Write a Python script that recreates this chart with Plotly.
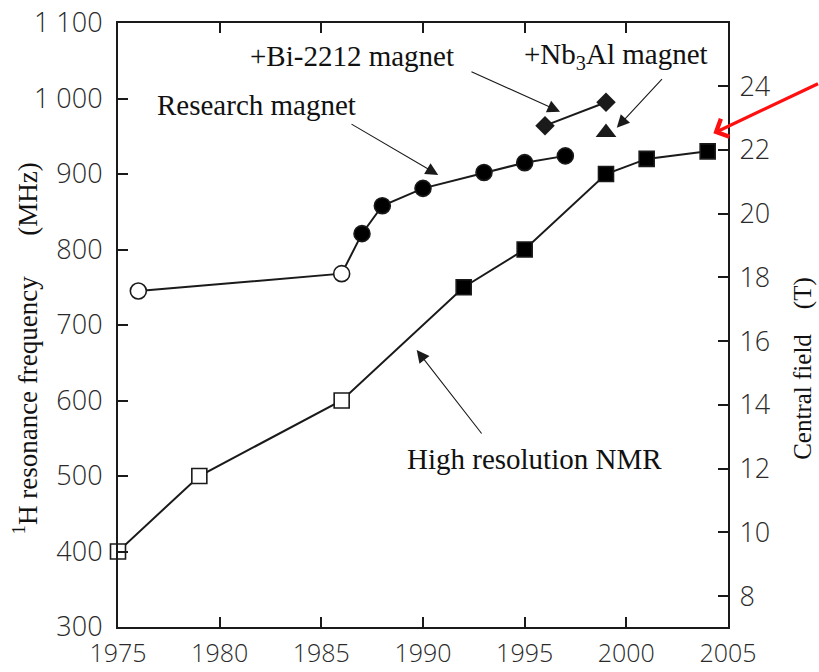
import plotly.graph_objects as go

# High resolution NMR magnets (open = early, filled = later generations)
nmr_years = [1975, 1979, 1986, 1992, 1995, 1999, 2001, 2004]
nmr_mhz = [400, 500, 600, 750, 800, 900, 920, 930]
nmr_fill = ["white", "white", "white", "black", "black", "black", "black", "black"]

# Research magnets
res_years = [1976, 1986, 1987, 1988, 1990, 1993, 1995, 1997]
res_mhz = [745, 768, 821, 858, 881, 902, 915, 924]
res_fill = ["white", "white", "black", "black", "black", "black", "black", "black"]

# Bi-2212 insert magnets and the Nb3Al magnet
bi_years = [1996, 1999]
bi_mhz = [964, 995]
nb_years = [1999]
nb_mhz = [955]

# Axis ticks
x_ticks = [1975, 1980, 1985, 1990, 1995, 2000, 2005]
y_ticks = [300, 400, 500, 600, 700, 800, 900, 1000, 1100]
y_ticktext = ["300", "400", "500", "600", "700", "800", "900", "1 000", "1 100"]
t_ticks = [8, 10, 12, 14, 16, 18, 20, 22, 24]

SERIF = "Liberation Serif, Times New Roman, serif"
SANS = "Open Sans, DejaVu Sans, sans-serif"
TICK_COLOR = "#2a2a2a"
LINE = "#1a1a1a"

fig = go.Figure()

fig.add_trace(go.Scatter(
    x=nmr_years, y=nmr_mhz, mode="lines+markers", cliponaxis=False,
    line=dict(color=LINE, width=2),
    marker=dict(symbol="square", size=15, color=nmr_fill,
                line=dict(color=LINE, width=1.6)),
    showlegend=False, hoverinfo="skip"))

fig.add_trace(go.Scatter(
    x=res_years, y=res_mhz, mode="lines+markers", cliponaxis=False,
    line=dict(color=LINE, width=2),
    marker=dict(symbol="circle", size=16, color=res_fill,
                line=dict(color=LINE, width=1.6)),
    showlegend=False, hoverinfo="skip"))

fig.add_trace(go.Scatter(
    x=bi_years, y=bi_mhz, mode="lines+markers", cliponaxis=False,
    line=dict(color=LINE, width=2),
    marker=dict(symbol="diamond", size=15, color=LINE),
    showlegend=False, hoverinfo="skip"))

fig.add_trace(go.Scatter(
    x=nb_years, y=nb_mhz, mode="markers", cliponaxis=False,
    marker=dict(symbol="triangle-up", size=18, color=LINE),
    showlegend=False, hoverinfo="skip"))

# empty trace so the tesla axis on the right is drawn
fig.add_trace(go.Scatter(x=[None], y=[None], yaxis="y2",
                         showlegend=False, hoverinfo="skip"))

text_font = dict(family=SERIF, size=29, color="#111111")
annotations = [
    dict(x=1986.5, y=1056, text="+Bi-2212 magnet"),
    dict(x=1999.5, y=1056, text="+Nb<sub>3</sub>Al magnet"),
    dict(x=1981.8, y=991, text="Research magnet"),
    dict(x=1995.5, y=522, text="High resolution NMR"),
]
for a in annotations:
    a.update(xref="x", yref="y", showarrow=False, font=text_font,
             xanchor="center", yanchor="middle")

# pointer arrows: (head x, head y, tail x, tail y)
pointers = [
    (1996.74, 982.5, 1992.31, 1036.4),
    (1999.53, 961.3, 2001.82, 1027.5),
    (1990.75, 898.7, 1986.41, 967.2),
    (1989.69, 666.9, 1992.94, 554.3),
]
for hx, hy, tx, ty in pointers:
    annotations.append(dict(
        x=hx, y=hy, ax=tx, ay=ty, xref="x", yref="y", axref="x", ayref="y",
        text="", showarrow=True, arrowhead=2, arrowsize=2.3, arrowwidth=1.1,
        arrowcolor=LINE, standoff=0))

# red highlight arrow pointing at the 2004 magnet
annotations.append(dict(
    x=2004.28, y=953.9, ax=2009.5, ay=1020.5, xref="x", yref="y",
    axref="x", ayref="y", text="", showarrow=True, arrowhead=4,
    arrowsize=1.2, arrowwidth=3.2, arrowcolor="#ff1010", standoff=0))

# axis titles
annotations.append(dict(
    x=-0.1525, y=0.461, xref="paper", yref="paper", textangle=-90,
    text="<sup>1</sup>H resonance frequency\u2003\u2002(MHz)", showarrow=False,
    font=dict(family=SERIF, size=27, color="#111111"),
    xanchor="center", yanchor="middle"))
annotations.append(dict(
    x=1.1235, y=0.428, xref="paper", yref="paper", textangle=-90,
    text="Central field\u2003(T)", showarrow=False,
    font=dict(family=SERIF, size=25, color="#111111"),
    xanchor="center", yanchor="middle"))

tick_font = dict(family=SANS, size=27, color=TICK_COLOR, weight=300)
axis_common = dict(showgrid=False, zeroline=False, showline=True,
                   linecolor=LINE, linewidth=2, ticks="inside", ticklen=10,
                   tickwidth=2, tickcolor=LINE, tickfont=tick_font,
                   automargin=False)

x_axis = dict(axis_common)
x_axis["tickfont"] = dict(family=SANS, size=25, color=TICK_COLOR, weight=300)

fig.update_layout(
    width=819, height=672,
    margin=dict(l=118, r=91, t=23, b=45, autoexpand=False),
    paper_bgcolor="white", plot_bgcolor="white",
    xaxis=dict(range=[1975, 2005], tickvals=x_ticks, mirror="ticks",
               ticklabelstandoff=3, **x_axis),
    yaxis=dict(range=[300, 1100], tickvals=y_ticks, ticktext=y_ticktext,
               ticklabelstandoff=8, **axis_common),
    yaxis2=dict(range=[7.03, 25.98], tickvals=t_ticks, overlaying="y",
                side="right", ticklabelstandoff=4, **axis_common),
    annotations=annotations,
)

fig.write_html("out.html")
